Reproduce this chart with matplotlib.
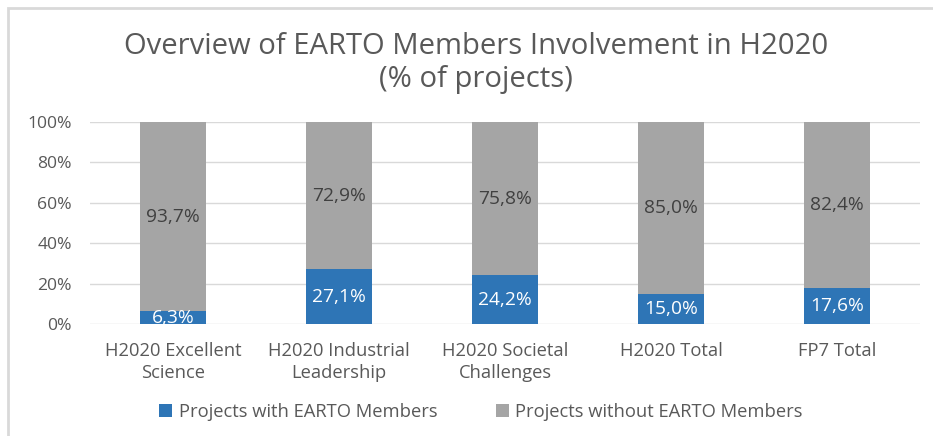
import matplotlib
matplotlib.use("Agg")
import matplotlib.pyplot as plt
from matplotlib.patches import Rectangle
import numpy as np

categories = ["H2020 Excellent\nScience", "H2020 Industrial\nLeadership",
              "H2020 Societal\nChallenges", "H2020 Total", "FP7 Total"]
with_earto = [6.3, 27.1, 24.2, 15.0, 17.6]
without_earto = [93.7, 72.9, 75.8, 85.0, 82.4]
series_names = ["Projects with EARTO Members", "Projects without EARTO Members"]
yticks = [0, 20, 40, 60, 80, 100]

BLUE = "#2E75B6"
GRAY = "#A5A5A5"
TXT = "#595959"
FONT = ["Open Sans", "DejaVu Sans"]
plt.rcParams['font.family'] = FONT

fig = plt.figure(figsize=(9.33, 4.36), dpi=100)
ax = fig.add_axes([90/933, 1-324/436, (920-90)/933, (324-122)/436])

x = np.arange(len(categories))
w = 0.4
b1 = ax.bar(x, with_earto, width=w, color=BLUE, label=series_names[0], zorder=3)
b2 = ax.bar(x, without_earto, width=w, bottom=with_earto, color=GRAY,
            label=series_names[1], zorder=3)

def fmt(v):
    return f"{v:.1f}%".replace(".", ",")

for xi, a, b in zip(x, with_earto, without_earto):
    ax.text(xi, a/2, fmt(a), ha="center", va="center", color="white", fontsize=13.8, zorder=4)
    ax.text(xi, a + b/2, fmt(b), ha="center", va="center", color="#404040", fontsize=13.8, zorder=4)

ax.set_xlim(-0.5, len(categories) - 0.5)
ax.set_ylim(0, 100)
ax.set_yticks(yticks)
ax.set_yticklabels([f"{t}%" for t in yticks], fontsize=12.6)
ax.set_xticks(x)
ax.set_xticklabels(categories, fontsize=13.2, linespacing=1.3)
ax.tick_params(axis="both", length=0, colors=TXT)
ax.tick_params(axis="y", pad=13)
ax.tick_params(axis="x", pad=13)
ax.grid(axis="y", color="#D9D9D9", linewidth=1, zorder=0)
for s in ax.spines.values():
    s.set_visible(False)

tx = 476/933
fig.text(tx, 1-46/436, "Overview of EARTO Members Involvement in H2020",
         ha="center", va="center", fontsize=21.1, color=TXT)
fig.text(tx, 1-80/436, "(% of projects)", ha="center", va="center", fontsize=21.1, color=TXT)

leg = fig.legend(handles=[b1, b2], labels=series_names, loc="center",
                 bbox_to_anchor=(481/933, 1-412/436), ncol=2, frameon=False,
                 fontsize=13.2, handlelength=0.7, handleheight=0.7, columnspacing=3.2,
                 handletextpad=0.35)
for t in leg.get_texts():
    t.set_color(TXT)

fig.patches.append(Rectangle((8/933, -0.1), 1.2, 1 - 8/436 + 0.1, transform=fig.transFigure,
                             fill=False, edgecolor="#D9D9D9", linewidth=2))

fig.savefig("out.png", dpi=100)
